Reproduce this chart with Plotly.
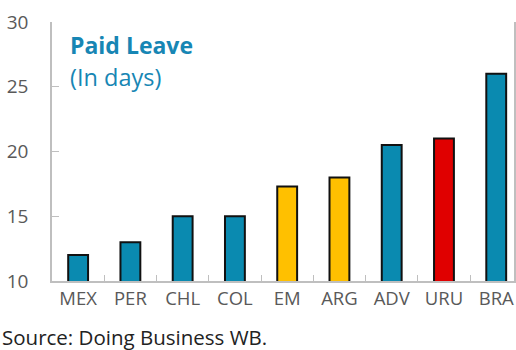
import plotly.graph_objects as go

# Paid leave by country group (days)
categories = ["MEX", "PER", "CHL", "COL", "EM", "ARG", "ADV", "URU", "BRA"]
paid_leave_days = [12, 13, 15, 15, 17.3, 18, 20.5, 21, 26]
bar_colors = ["#0a8ab0", "#0a8ab0", "#0a8ab0", "#0a8ab0", "#ffc000",
              "#ffc000", "#0a8ab0", "#e00000", "#0a8ab0"]
y_ticks = [10, 15, 20, 25, 30]

FONT = "Open Sans"
AXIS_GRAY = "#bfbfbf"
TEXT_GRAY = "#595959"
TITLE_BLUE = "#1786b4"

fig = go.Figure(
    go.Bar(
        x=categories,
        y=paid_leave_days,
        marker=dict(color=bar_colors, line=dict(color="#111111", width=2)),
        width=0.38,
    )
)

fig.update_layout(
    width=516,
    height=350,
    margin=dict(l=52, r=0, t=22, b=69),
    paper_bgcolor="white",
    plot_bgcolor="white",
    showlegend=False,
    font=dict(family=FONT, color=TEXT_GRAY, size=18),
)

fig.update_xaxes(
    range=[-0.5, 8.34],
    showline=True, linecolor=AXIS_GRAY, linewidth=1.5,
    mirror=False,
    ticks="inside", ticklen=6, tickcolor=AXIS_GRAY,
    tickson="boundaries",
    showgrid=False,
    tickfont=dict(size=18.5, color=TEXT_GRAY),
)
fig.update_yaxes(
    range=[10, 30],
    tickvals=y_ticks,
    showline=True, linecolor=AXIS_GRAY, linewidth=1.5,
    mirror=True,
    ticks="inside", ticklen=7, tickcolor=AXIS_GRAY,
    showgrid=False, zeroline=False,
    ticklabelstandoff=18,
    tickfont=dict(size=19, color=TEXT_GRAY),
)

fig.add_annotation(
    text="<b>Paid Leave</b>", xref="paper", yref="paper",
    x=0.034, y=0.911, xanchor="left", yanchor="middle", showarrow=False,
    font=dict(family=FONT, size=23, color=TITLE_BLUE),
)
fig.add_annotation(
    text="(In days)", xref="paper", yref="paper",
    x=0.034, y=0.788, xanchor="left", yanchor="middle", showarrow=False,
    font=dict(family=FONT, size=23.5, color=TITLE_BLUE),
)
fig.add_annotation(
    text="Source: Doing Business WB.", xref="paper", yref="paper",
    x=-0.112, y=-0.216, xanchor="left", yanchor="middle", showarrow=False,
    font=dict(family=FONT, size=20.5, color="#222222"),
)

fig.write_html("out.html")
